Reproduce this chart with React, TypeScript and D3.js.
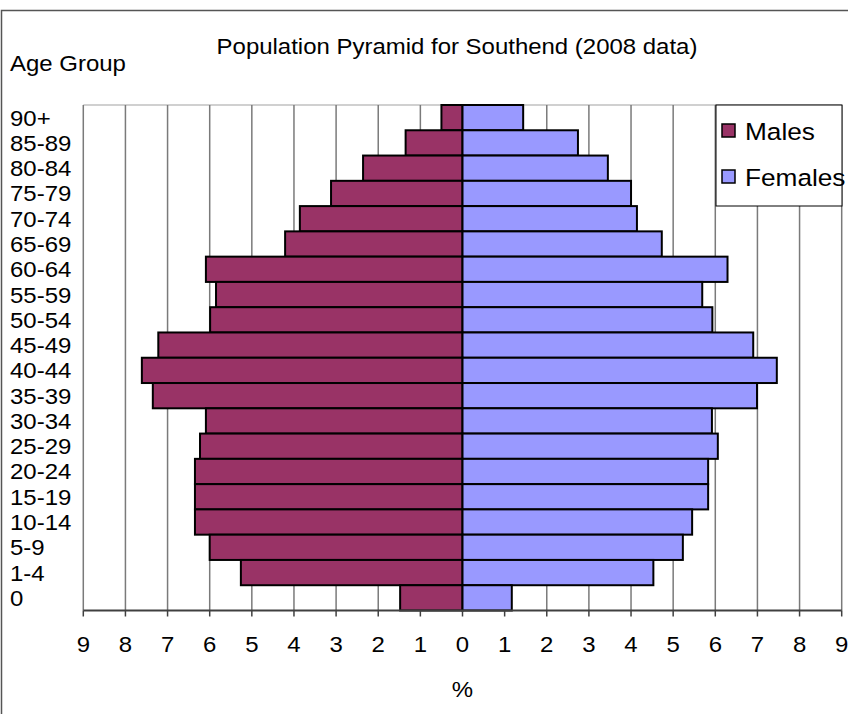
import React from "react";
import * as d3 from "d3";

const ageGroups = ["90+","85-89","80-84","75-79","70-74","65-69","60-64","55-59","50-54","45-49","40-44","35-39","30-34","25-29","20-24","15-19","10-14","5-9","1-4","0"];
const males = [0.5,1.35,2.36,3.12,3.86,4.21,6.09,5.85,5.99,7.22,7.61,7.35,6.09,6.23,6.35,6.35,6.35,6.0,5.26,1.48];
const females = [1.44,2.74,3.45,4.0,4.14,4.73,6.29,5.69,5.93,6.9,7.46,6.99,5.92,6.06,5.83,5.83,5.45,5.23,4.53,1.17];
const xTicks = [-9,-8,-7,-6,-5,-4,-3,-2,-1,0,1,2,3,4,5,6,7,8,9];
const seriesNames = ["Males","Females"];
const colors = ["#993366","#9999FF"];

const W = 848, H = 714;
const plot = { left: 83.3, right: 841.7, top: 105, bottom: 610.5 };
const FONT = "'Liberation Sans', Arial, sans-serif";
const SX = 1.07;
const FS = 22.4;

export default function App() {
  const x = d3.scaleLinear().domain([-9, 9]).range([plot.left, plot.right]);
  const y = d3.scaleBand<string>().domain(ageGroups).range([plot.top, plot.bottom]).padding(0);
  const T = (tx: number, ty: number, s: string, size: number, anchor: string = "start", key?: any) => (
    <text key={key} transform={`translate(${tx},${ty}) scale(${SX},1)`} fontSize={size} textAnchor={anchor as any} fontFamily={FONT} fill="#000">{s}</text>
  );
  return (
    <svg width={W} height={H} style={{ position: "absolute", left: 0, top: 0 }}>
      <rect x={0} y={0} width={W} height={H} fill="#fff" />
      <rect x={1.5} y={10.5} width={W + 20} height={H + 20} fill="none" stroke="#555" strokeWidth={1.5} />
      {T(457, 54, "Population Pyramid for Southend (2008 data)", FS, "middle")}
      {T(10, 71, "Age Group", FS)}
      <line x1={plot.left} x2={plot.right} y1={plot.top} y2={plot.top} stroke="#c0c0c0" strokeWidth={1.5} />
      {xTicks.map((t) => (
        <line key={"g" + t} x1={x(t)} x2={x(t)} y1={plot.top} y2={plot.bottom} stroke="#7a7a7a" strokeWidth={1.5} />
      ))}
      {ageGroups.map((g, i) => (
        <g key={g}>
          <rect x={x(-males[i])} y={y(g)} width={x(0) - x(-males[i])} height={y.bandwidth()} fill={colors[0]} stroke="#000" strokeWidth={2} />
          <rect x={x(0)} y={y(g)} width={x(females[i]) - x(0)} height={y.bandwidth()} fill={colors[1]} stroke="#000" strokeWidth={2} />
        </g>
      ))}
      <line x1={plot.left} x2={plot.right} y1={plot.bottom} y2={plot.bottom} stroke="#404040" strokeWidth={2} />
      {xTicks.map((t) => (
        <g key={"t" + t}>
          <line x1={x(t)} x2={x(t)} y1={plot.bottom} y2={plot.bottom + 6} stroke="#404040" strokeWidth={1.5} />
          {T(x(t), 652, String(Math.abs(t)), FS, "middle")}
        </g>
      ))}
      {T(x(0), 697, "%", FS, "middle")}
      {ageGroups.map((g) => T(10, (y(g) as number) + y.bandwidth() / 2 + 8, g, FS, "start", "l" + g))}
      <rect x={716} y={105} width={126} height={101} fill="#fff" stroke="#000" strokeWidth={1} />
      {seriesNames.map((s, i) => (
        <g key={s}>
          <rect x={722} y={124 + i * 46} width={13} height={13} fill={colors[i]} stroke="#000" strokeWidth={1.5} />
          {T(745, 140 + i * 46, s, 24.5, "start")}
        </g>
      ))}
    </svg>
  );
}
